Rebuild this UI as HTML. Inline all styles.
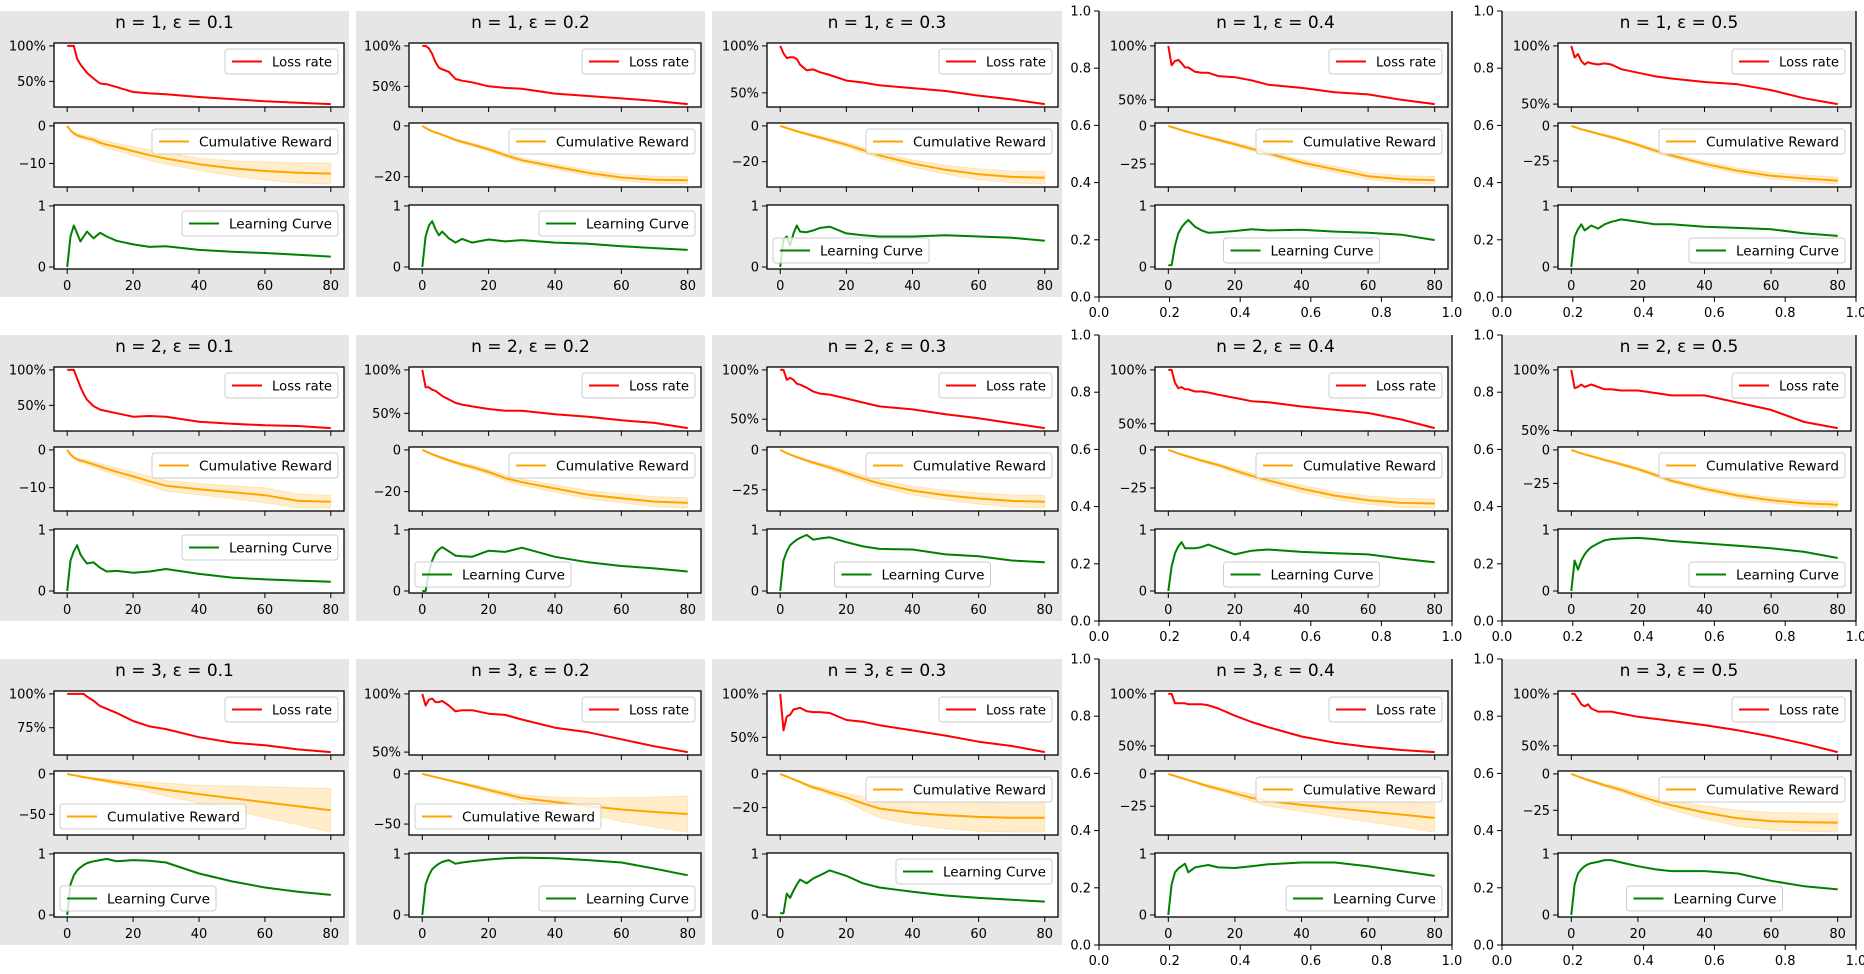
<!DOCTYPE html>
<html><head><meta charset="utf-8"><title>Grid of results</title>
<style>
html,body{margin:0;padding:0;background:#fff;}
svg{display:block;font-family:"DejaVu Sans","Liberation Sans",sans-serif;}
</style></head>
<body>
<svg id="fig" width="1864" height="974" viewBox="0 0 1864 974" xmlns="http://www.w3.org/2000/svg"></svg>
<script>
// ---- data ----
const episodes = [0,1,2,3,4,5,6,8,10,12,15,20,25,30,40,50,60,70,80];
const nValues = [1,2,3];
const epsValues = ['0.1','0.2','0.3','0.4','0.5'];
const xTickLabels = [0,20,40,60,80];
const bigTickLabels = ['0.0','0.2','0.4','0.6','0.8','1.0'];

const lossRate = [
 [
  [1,1,1,0.82,0.74,0.68,0.62,0.54,0.47,0.46,0.42,0.35,0.33,0.32,0.28,0.25,0.22,0.2,0.18],
  [1,1,0.97,0.9,0.8,0.73,0.71,0.68,0.59,0.57,0.55,0.5,0.48,0.47,0.41,0.38,0.35,0.32,0.28],
  [1,0.92,0.87,0.88,0.88,0.86,0.8,0.74,0.75,0.72,0.69,0.63,0.61,0.58,0.55,0.52,0.47,0.43,0.38],
  [1,0.82,0.86,0.87,0.84,0.8,0.8,0.76,0.75,0.75,0.72,0.71,0.68,0.64,0.61,0.57,0.55,0.5,0.46],
  [1,0.9,0.93,0.87,0.84,0.86,0.85,0.84,0.85,0.84,0.8,0.77,0.74,0.72,0.69,0.67,0.62,0.55,0.5]
 ],
 [
  [1,1,1,0.88,0.76,0.66,0.58,0.49,0.44,0.42,0.39,0.34,0.35,0.34,0.27,0.24,0.22,0.21,0.18],
  [1,0.8,0.8,0.77,0.76,0.73,0.7,0.66,0.62,0.6,0.58,0.55,0.53,0.53,0.49,0.46,0.42,0.39,0.33],
  [1,1,0.9,0.92,0.9,0.86,0.85,0.82,0.78,0.76,0.75,0.71,0.67,0.63,0.6,0.55,0.51,0.46,0.41],
  [1,1,0.88,0.83,0.84,0.82,0.82,0.8,0.8,0.79,0.77,0.74,0.71,0.7,0.66,0.63,0.6,0.54,0.46],
  [1,0.85,0.86,0.88,0.86,0.87,0.88,0.86,0.84,0.84,0.83,0.83,0.81,0.79,0.79,0.73,0.67,0.57,0.52]
 ],
 [
  [1,1,1,1,1,1,0.98,0.95,0.91,0.89,0.86,0.8,0.76,0.74,0.68,0.64,0.62,0.59,0.57],
  [1,0.9,0.95,0.96,0.93,0.93,0.94,0.9,0.85,0.86,0.86,0.83,0.82,0.78,0.71,0.67,0.61,0.55,0.5],
  [1,0.58,0.74,0.76,0.82,0.83,0.84,0.8,0.79,0.79,0.78,0.7,0.68,0.64,0.58,0.52,0.45,0.4,0.33],
  [1,1,0.91,0.91,0.91,0.91,0.9,0.9,0.9,0.89,0.86,0.79,0.73,0.68,0.59,0.53,0.49,0.46,0.44],
  [1,1,0.95,0.9,0.88,0.9,0.86,0.83,0.83,0.83,0.81,0.78,0.76,0.74,0.7,0.65,0.59,0.52,0.44]
 ]
];

const cumReward = [
 [
  [0,-1.2,-2,-2.5,-2.8,-3,-3.3,-3.7,-4.5,-5,-5.6,-6.7,-7.8,-8.7,-10.2,-11.3,-12,-12.5,-12.7],
  [0,-0.8,-1.5,-2.1,-2.6,-3,-3.5,-4.5,-5.5,-6.3,-7.3,-9.2,-11.5,-13.5,-16,-18.5,-20.3,-21.2,-21.4],
  [0,-0.6,-1.2,-1.8,-2.4,-3,-3.5,-4.5,-5.5,-6.5,-8,-10.5,-13.5,-16.5,-21,-24.5,-27,-28.5,-29],
  [0,-0.7,-1.4,-2.1,-2.8,-3.4,-4,-5.2,-6.4,-7.5,-9.2,-12,-15,-18,-24,-28.5,-33,-35,-35.7],
  [0,-0.8,-1.6,-2.4,-3,-3.6,-4.3,-5.6,-6.8,-8,-10,-13.5,-17.5,-21,-27,-32,-35.5,-37.5,-39]
 ],
 [
  [0,-1.2,-2,-2.5,-2.8,-3,-3.3,-3.8,-4.4,-5,-5.8,-7,-8.3,-9.5,-10.4,-11.2,-12,-13.5,-13.7],
  [0,-0.7,-1.4,-2.1,-2.7,-3.3,-3.9,-5,-6,-7,-8.2,-10.6,-13.5,-15.5,-18.5,-21.5,-23.2,-24.8,-25.4],
  [0,-1,-2,-2.9,-3.7,-4.5,-5.2,-6.6,-8,-9.2,-11,-14.5,-18,-21,-25.5,-28.5,-30.5,-32,-32.5],
  [0,-0.8,-1.6,-2.3,-3,-3.7,-4.4,-5.7,-7,-8.2,-10,-13.5,-17,-20,-25.5,-30,-33,-34.8,-35.2],
  [0,-0.9,-1.8,-2.6,-3.3,-4,-4.7,-6.1,-7.5,-8.8,-10.8,-14.3,-18.5,-23,-29,-34,-37.5,-39.8,-40.9]
 ],
 [
  [0,-0.8,-1.6,-2.4,-3.2,-4,-4.6,-6,-7.3,-8.6,-10.5,-13.5,-16.5,-19.5,-25,-30,-35,-40,-45],
  [0,-0.8,-1.6,-2.4,-3.2,-4,-4.8,-6.4,-8,-9.5,-12,-16,-20,-24,-28,-32,-35.5,-38,-40],
  [0,-0.8,-1.6,-2.4,-3.2,-4,-4.8,-6.5,-8,-9,-11,-14,-17.5,-20.5,-23,-24.5,-25.5,-26,-26],
  [0,-0.8,-1.6,-2.4,-3.2,-4,-4.8,-6.4,-8,-9.5,-11.5,-15,-18.5,-21,-24,-26.5,-29,-31.5,-34],
  [0,-0.9,-1.8,-2.6,-3.4,-4.2,-4.9,-6.4,-7.8,-9,-11,-15,-18.5,-21.5,-26.5,-30.5,-32.5,-33.2,-33.5]
 ]
];

const rewardSpread = [
 [
  [0,0.2,0.3,0.4,0.5,0.5,0.6,0.7,0.8,0.9,1,1.2,1.4,1.5,1.6,2,2.4,2.7,2.8],
  [0,0.1,0.2,0.2,0.3,0.3,0.3,0.4,0.5,0.5,0.6,0.7,0.8,0.9,1,1.1,1.3,1.4,1.5],
  [0,0.2,0.3,0.4,0.5,0.5,0.6,0.7,0.8,0.9,1,1.2,1.4,1.6,2,2.5,3,3.3,3.5],
  [0,0.1,0.2,0.3,0.4,0.5,0.6,0.7,0.8,0.9,1,1.2,1.4,1.5,1.8,2,2.2,2.4,2.5],
  [0,0.1,0.2,0.3,0.4,0.5,0.6,0.7,0.8,0.9,1,1.2,1.4,1.5,1.8,2,2.2,2.4,2.5]
 ],
 [
  [0,0.2,0.3,0.4,0.5,0.5,0.6,0.7,0.8,0.9,1,1.2,1.3,1.4,1.5,1.7,2,1.8,1.7],
  [0,0.1,0.2,0.3,0.4,0.5,0.6,0.7,0.8,0.9,1,1.2,1.4,1.5,1.8,2,2.2,2.4,2.5],
  [0,0.2,0.3,0.4,0.5,0.6,0.7,0.8,1,1.1,1.3,1.6,2,2.3,2.8,3.2,3.5,3.8,4],
  [0,0.2,0.3,0.4,0.5,0.6,0.7,0.8,0.9,1,1.2,1.5,1.8,2,2.4,2.6,2.8,3,3],
  [0,0.1,0.2,0.3,0.4,0.5,0.6,0.7,0.8,0.9,1,1.2,1.4,1.5,1.8,2,2.2,2.4,2.5]
 ],
 [
  [0,0.2,0.4,0.6,0.8,1,1.2,1.6,2,2.5,3,4,6,8,11,15,19,23,27],
  [0,0.1,0.2,0.3,0.4,0.5,0.6,0.8,1,1.2,1.5,2,2.5,3,5,8,12,15,18],
  [0,0.1,0.2,0.3,0.4,0.5,0.6,0.8,1,1.2,1.5,2.5,4,5.5,7,8,8.5,8.5,8.5],
  [0,0.1,0.2,0.3,0.4,0.5,0.6,0.8,1,1.2,1.5,2,3,4,5,6.5,8,9.5,11],
  [0,0.2,0.3,0.4,0.5,0.6,0.7,0.9,1.1,1.3,1.6,2,2.6,3.2,4.5,5.5,6,6.3,6.5]
 ]
];

const learningCurve = [
 [
  [0,0.5,0.68,0.55,0.42,0.5,0.58,0.47,0.56,0.5,0.43,0.37,0.33,0.34,0.28,0.25,0.23,0.2,0.17],
  [0,0.5,0.68,0.75,0.62,0.52,0.58,0.47,0.4,0.46,0.4,0.45,0.42,0.44,0.4,0.38,0.34,0.31,0.28],
  [0,0.45,0.5,0.35,0.55,0.68,0.58,0.57,0.6,0.64,0.66,0.55,0.52,0.5,0.5,0.52,0.5,0.48,0.43],
  [0.03,0.03,0.35,0.55,0.65,0.72,0.77,0.66,0.6,0.56,0.57,0.59,0.62,0.6,0.61,0.58,0.56,0.53,0.44],
  [0,0.5,0.62,0.7,0.6,0.64,0.68,0.63,0.7,0.74,0.78,0.74,0.7,0.7,0.66,0.64,0.62,0.55,0.51]
 ],
 [
  [0,0.5,0.65,0.75,0.6,0.52,0.45,0.47,0.38,0.32,0.33,0.3,0.32,0.36,0.28,0.22,0.19,0.17,0.15],
  [0,0,0.3,0.5,0.62,0.68,0.72,0.65,0.58,0.57,0.56,0.66,0.64,0.71,0.56,0.47,0.41,0.37,0.32],
  [0,0.5,0.65,0.75,0.8,0.84,0.87,0.92,0.84,0.86,0.88,0.8,0.73,0.69,0.68,0.6,0.57,0.5,0.47],
  [0,0.4,0.62,0.73,0.8,0.7,0.7,0.7,0.72,0.76,0.7,0.6,0.66,0.68,0.64,0.62,0.6,0.53,0.47],
  [0,0.5,0.35,0.5,0.6,0.67,0.72,0.78,0.83,0.85,0.86,0.87,0.85,0.82,0.78,0.74,0.7,0.64,0.54]
 ],
 [
  [0,0.5,0.65,0.73,0.78,0.82,0.85,0.88,0.9,0.92,0.88,0.9,0.89,0.86,0.68,0.55,0.45,0.38,0.33],
  [0,0.5,0.65,0.75,0.8,0.84,0.87,0.9,0.84,0.86,0.88,0.91,0.93,0.94,0.93,0.9,0.86,0.76,0.65],
  [0.03,0.03,0.35,0.28,0.4,0.5,0.58,0.52,0.6,0.65,0.73,0.64,0.52,0.45,0.38,0.32,0.28,0.25,0.22],
  [0,0.5,0.7,0.76,0.8,0.84,0.7,0.78,0.8,0.82,0.78,0.77,0.8,0.83,0.86,0.86,0.8,0.72,0.64],
  [0,0.5,0.68,0.75,0.8,0.83,0.85,0.87,0.9,0.9,0.86,0.8,0.75,0.72,0.72,0.68,0.56,0.47,0.42]
 ]
];

const lossTicks = [
 [[0.5,1],[0.5,1],[0.5,1],[0.5,1],[0.5,1]],
 [[0.5,1],[0.5,1],[0.5,1],[0.5,1],[0.5,1]],
 [[0.75,1],[0.5,1],[0.5,1],[0.5,1],[0.5,1]]
];
const rewardTicks = [
 [[0,-10],[0,-20],[0,-20],[0,-25],[0,-25]],
 [[0,-10],[0,-20],[0,-25],[0,-25],[0,-25]],
 [[0,-50],[0,-50],[0,-20],[0,-25],[0,-25]]
];
const learnTicks = [0,1];
const rewardLegendLoc = [
 ['ur','ur','ur','ur','ur'],['ur','ur','ur','ur','ur'],['ll','ll','ur','ur','ur']];
const learnLegendLoc = [
 ['ur','ur','ll','lc','lr'],['ur','ll','lc','lc','lr'],['ll','lr','ur','lr','lc']];

// ---- layout ----
const NS='http://www.w3.org/2000/svg';
const svg=document.getElementById('fig');
const colL=[54,409,767,1155,1558], colR=[344,701,1058,1448,1851];
const panelX=[[0,349],[356,705],[712,1062],[1099,1452],[1502,1856]];
const subY=[[43,107],[123,187],[205,269]];
const ROW=324;
function mk(tag,attrs,parent){const e=document.createElementNS(NS,tag);for(const k in attrs)e.setAttribute(k,attrs[k]);(parent||svg).appendChild(e);return e;}
function txt(s,x,y,anchor,size,parent){const t=mk('text',{x:x,y:y,'text-anchor':anchor,'font-size':size,fill:'#000'},parent);t.textContent=s;return t;}
function fmtNum(v){return v<0?'\u2212'+Math.abs(v):String(v);}

const legendW={'Loss rate':113,'Cumulative Reward':186,'Learning Curve':156};

function drawSub(g,L,R,T,B,xs,ys,lo,hi,color,ylim,ticks,tickFmt,label,loc,showXLabels){
  const x0=-4,x1=84;
  const sx=v=>L+(v-x0)/(x1-x0)*(R-L);
  const sy=v=>B-(v-ylim[0])/(ylim[1]-ylim[0])*(B-T);
  const ax=mk('g',{},g);
  
  
  const bg=mk('rect',{x:L,y:T,width:R-L,height:B-T,fill:'#fff'},ax);
  
  
  if(lo){
    let d='';
    for(let i=0;i<xs.length;i++)d+=(i?'L':'M')+sx(xs[i]).toFixed(1)+' '+sy(hi[i]).toFixed(1);
    for(let i=xs.length-1;i>=0;i--)d+='L'+sx(xs[i]).toFixed(1)+' '+sy(lo[i]).toFixed(1);
    const band=mk('path',{d:d+'Z',fill:color,'fill-opacity':0.2,stroke:color,'stroke-opacity':0.2,'stroke-width':1},ax);
    
    
  }
  const pts=xs.map((v,i)=>sx(v).toFixed(1)+','+sy(ys[i]).toFixed(1)).join(' ');
  const line=mk('polyline',{points:pts,fill:'none',stroke:color,'stroke-width':2,'stroke-linejoin':'round'},ax);
  
  
  const frame=mk('rect',{x:L,y:T,width:R-L,height:B-T,fill:'none',stroke:'#000','stroke-width':1.3},ax);
  
  
  xTickLabels.forEach(v=>{
    const x=sx(v);
    mk('line',{x1:x,y1:B,x2:x,y2:B+5,stroke:'#000','stroke-width':1},ax);
    if(showXLabels){const t=txt(String(v),x,B+21,'middle',13,ax);
      
      }
  });
  ticks.forEach(v=>{
    const y=sy(v);
    mk('line',{x1:L-5,y1:y,x2:L,y2:y,stroke:'#000','stroke-width':1},ax);
    const t=txt(tickFmt(v),L-8,y+4.5,'end',13,ax);
    
    
  });
  const w=legendW[label],h=25;let lx,ly;
  if(loc==='ur'){lx=R-6-w;ly=T+6;}
  else if(loc==='ll'){lx=L+6;ly=B-6-h;}
  else if(loc==='lr'){lx=R-6-w;ly=B-6-h;}
  else {lx=(L+R)/2-w/2;ly=B-6-h;}
  const lg=mk('g',{},ax);
  
  
  mk('rect',{x:lx,y:ly,width:w,height:h,rx:3,fill:'#fff','fill-opacity':0.8,stroke:'#ccc','stroke-width':1},lg);
  mk('line',{x1:lx+7,y1:ly+12.5,x2:lx+37,y2:ly+12.5,stroke:color,'stroke-width':2},lg);
  const lt=txt(label,lx+47,ly+17.5,'start',13.6,lg);
  lt.setAttribute('textLength',w-53);
  lt.setAttribute('lengthAdjust','spacingAndGlyphs');
}

function autoLim(arrs){let mn=Infinity,mx=-Infinity;arrs.forEach(a=>a.forEach(v=>{if(v<mn)mn=v;if(v>mx)mx=v;}));const p=(mx-mn)*0.05;return [mn-p,mx+p];}

for(let r=0;r<3;r++){
  const oy=r*ROW;
  for(let c=0;c<5;c++){
    const g=mk('g',{});
    
    
    const px=panelX[c];
    if(c>=3){
      const outer=mk('g',{},g);
      
      
      const top=11+oy,bot=297+oy;
      mk('rect',{x:px[0],y:top,width:px[1]-px[0],height:bot-top,fill:'#e6e6e6'},outer);
      mk('line',{x1:px[0],y1:top,x2:px[0],y2:bot,stroke:'#000','stroke-width':1.3},outer);
      mk('line',{x1:px[1],y1:top,x2:px[1],y2:bot,stroke:'#000','stroke-width':1.3},outer);
      mk('line',{x1:px[0],y1:bot,x2:px[1],y2:bot,stroke:'#000','stroke-width':1.3},outer);
      bigTickLabels.forEach((s,i)=>{
        const y=bot-i/5*(bot-top), x=px[0]+i/5*(px[1]-px[0]);
        mk('line',{x1:px[0]-5,y1:y,x2:px[0],y2:y,stroke:'#000','stroke-width':1},outer);
        const ty=txt(s,px[0]-8,y+4.5,'end',13,outer);
        
        
        mk('line',{x1:x,y1:bot,x2:x,y2:bot+5,stroke:'#000','stroke-width':1},outer);
        const tx=txt(s,x,bot+20,'middle',13,outer);
        
        
      });
    } else {
      const bg=mk('rect',{x:px[0],y:11+oy,width:px[1]-px[0],height:286,fill:'#e6e6e6'},g);
      
      
    }
    const title=txt('n = '+nValues[r]+', \u03b5 = '+epsValues[c],(px[0]+px[1])/2,28+oy,'middle',17,g);
    
    
    const L=colL[c],R=colR[c];
    const loss=lossRate[r][c];
    drawSub(g,L,R,subY[0][0]+oy,subY[0][1]+oy,episodes,loss,null,null,'#ff0000',autoLim([loss]),lossTicks[r][c],v=>Math.round(v*100)+'%','Loss rate','ur',false);
    const rw=cumReward[r][c],sp=rewardSpread[r][c];
    const lo=rw.map((v,i)=>v-sp[i]),hi=rw.map((v,i)=>v+sp[i]);
    drawSub(g,L,R,subY[1][0]+oy,subY[1][1]+oy,episodes,rw,lo,hi,'#ffa500',autoLim([lo,hi]),rewardTicks[r][c],fmtNum,'Cumulative Reward',rewardLegendLoc[r][c],false);
    drawSub(g,L,R,subY[2][0]+oy,subY[2][1]+oy,episodes,learningCurve[r][c],null,null,'#008000',[-0.033,1.016],learnTicks,fmtNum,'Learning Curve',learnLegendLoc[r][c],true);
  }
}
</script>
</body></html>
